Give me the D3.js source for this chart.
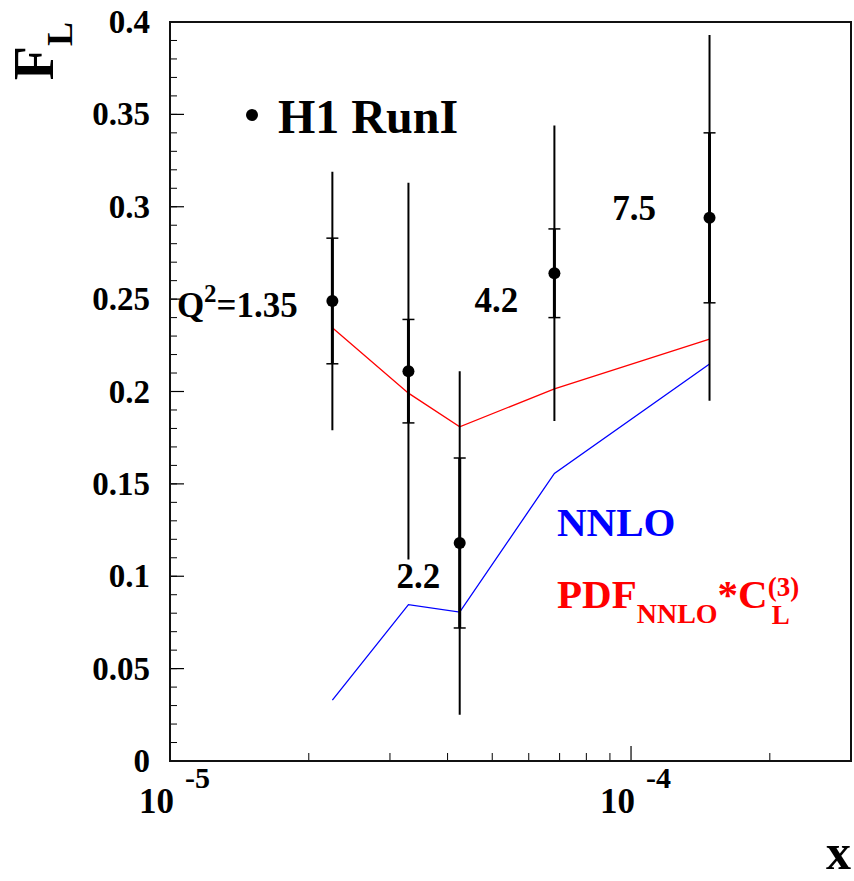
<!DOCTYPE html>
<meta charset="utf-8">
<style>
body { margin: 0; background: #fff; }
text { font-family: "Liberation Serif", "Times New Roman", serif; font-weight: bold; }
.axis line, .axis path { fill: none; stroke: #000; }
</style>
<body>
<div id="chart"></div>
<script src="https://cdn.jsdelivr.net/npm/d3@7"></script>
<script>
// H1 Run I F_L measurements vs x
var xVals   = [2.25e-5, 3.29e-5, 4.25e-5, 6.82e-5, 1.48e-4];
var flVals  = [0.249, 0.211, 0.118, 0.264, 0.294];
var statErr = [0.034, 0.028, 0.046, 0.024, 0.046];
var totErr  = [0.070, 0.102, 0.093, 0.080, 0.099];
var nnlo    = [0.033, 0.0846, 0.0806, 0.1557, 0.2149];
var pdfC3   = [0.2345, 0.1991, 0.1809, 0.2014, 0.2283];
var q2Labels = ["1.35", "2.2", "4.2", "7.5"];
var yTicks  = [0, 0.05, 0.1, 0.15, 0.2, 0.25, 0.3, 0.35, 0.4];
var xDecades = [1e-5, 1e-4];

var W = 854, H = 881,
    margin = {left: 170, top: 22, right: 3, bottom: 120},
    width = W - margin.left - margin.right,
    height = H - margin.top - margin.bottom;

var x = d3.scaleLog().domain([1e-5, 3e-4]).range([0, width]),
    y = d3.scaleLinear().domain([0, 0.4]).range([height, 0]);

var svg = d3.select("#chart").append("svg")
    .attr("width", W).attr("height", H);
var g = svg.append("g")
    .attr("transform", "translate(" + margin.left + "," + margin.top + ")");

// y ticks: major every 0.05, minor every 0.01
var yMinor = d3.range(0, 0.4001, 0.01);
g.selectAll(".ymin").data(yMinor).enter().append("line")
    .attr("x1", 0).attr("x2", 7)
    .attr("y1", function(d) { return y(d); }).attr("y2", function(d) { return y(d); })
    .attr("stroke", "#000").attr("stroke-width", 1);
g.selectAll(".ymaj").data(yTicks).enter().append("line")
    .attr("x1", 0).attr("x2", 14)
    .attr("y1", function(d) { return y(d); }).attr("y2", function(d) { return y(d); })
    .attr("stroke", "#000").attr("stroke-width", 1.2);
g.selectAll(".ylab").data(yTicks).enter().append("text")
    .attr("x", -20).attr("y", function(d) { return y(d) + 11; })
    .attr("text-anchor", "end").attr("font-size", 33)
    .text(function(d) { return d === 0 ? "0" : d3.format(".3~f")(d); });

// x ticks (log)
var xMinor = [];
[1e-5, 1e-4].forEach(function(dec) {
  for (var k = 2; k <= 9; k++) { if (dec * k <= 3e-4) xMinor.push(dec * k); }
});
g.selectAll(".xmin").data(xMinor).enter().append("line")
    .attr("x1", function(d) { return x(d); }).attr("x2", function(d) { return x(d); })
    .attr("y1", height).attr("y2", height - 8)
    .attr("stroke", "#000").attr("stroke-width", 1);
g.selectAll(".xmaj").data(xDecades).enter().append("line")
    .attr("x1", function(d) { return x(d); }).attr("x2", function(d) { return x(d); })
    .attr("y1", height).attr("y2", height - 15)
    .attr("stroke", "#000").attr("stroke-width", 1.2);
var xl = g.selectAll(".xlab").data(xDecades).enter().append("g")
    .attr("transform", function(d) { return "translate(" + x(d) + "," + height + ")"; });
xl.append("text").attr("x", 4).attr("y", 52).attr("text-anchor", "end")
    .attr("font-size", 35).text("10");
xl.append("text").attr("x", 15).attr("y", 27)
    .attr("font-size", 30).text(function(d) { return Math.round(Math.log10(d)); });

// frame
g.append("rect").attr("width", width).attr("height", height)
    .attr("fill", "none").attr("stroke", "#111").attr("stroke-width", 2);

// axis titles
svg.append("text")
    .attr("transform", "translate(53," + margin.top + ") rotate(-90)")
    .attr("text-anchor", "end")
    .call(function(t) {
      t.append("tspan").attr("font-size", 56).text("F");
      t.append("tspan").attr("font-size", 36).attr("dy", 19).text("L");
    });
svg.append("text").attr("x", W - 3).attr("y", 869)
    .attr("text-anchor", "end").attr("font-size", 50).text("x");

// theory curves
var line = function(vals) {
  return d3.line().x(function(d, i) { return x(xVals[i]); }).y(function(d) { return y(d); })(vals);
};
g.append("path").attr("d", line(pdfC3)).attr("fill", "none")
    .attr("stroke", "#ff0000").attr("stroke-width", 1.3);
g.append("path").attr("d", line(nnlo)).attr("fill", "none")
    .attr("stroke", "#0000ff").attr("stroke-width", 1.3);

// data points with total and stat errors
var pts = g.selectAll(".pt").data(flVals).enter().append("g")
    .attr("transform", function(d, i) { return "translate(" + x(xVals[i]) + ",0)"; });
pts.append("line")
    .attr("y1", function(d, i) { return y(d + totErr[i]); })
    .attr("y2", function(d, i) { return y(d - totErr[i]); })
    .attr("stroke", "#000").attr("stroke-width", 2);
pts.append("line")
    .attr("y1", function(d, i) { return y(d + statErr[i]); })
    .attr("y2", function(d, i) { return y(d - statErr[i]); })
    .attr("stroke", "#000").attr("stroke-width", 3);
[1, -1].forEach(function(s) {
  pts.append("line").attr("x1", -6).attr("x2", 6)
      .attr("y1", function(d, i) { return y(d + s * statErr[i]); })
      .attr("y2", function(d, i) { return y(d + s * statErr[i]); })
      .attr("stroke", "#000").attr("stroke-width", 1.5);
});
pts.append("circle").attr("cy", function(d) { return y(d); })
    .attr("r", 6).attr("fill", "#000");

// Q^2 labels
var q2Pos = [[1.035e-5, 0.2403], [3.10e-5, 0.0936], [4.575e-5, 0.2430], [9.11e-5, 0.2928]];
g.selectAll(".q2").data(q2Labels).enter().append("text")
    .attr("x", function(d, i) { return x(q2Pos[i][0]); })
    .attr("y", function(d, i) { return y(q2Pos[i][1]); })
    .attr("font-size", 35)
    .each(function(d, i) {
      var t = d3.select(this);
      if (i === 0) {
        t.append("tspan").text("Q");
        t.append("tspan").attr("font-size", 25).attr("dy", -15).text("2");
        t.append("tspan").attr("dy", 15).text("=" + d);
      } else {
        t.text(d);
      }
    });

// legend
svg.append("circle").attr("cx", 252).attr("cy", 115).attr("r", 6).attr("fill", "#000");
svg.append("text").attr("x", 278).attr("y", 133).attr("font-size", 48).text("H1 RunI");

svg.append("text").attr("x", 557).attr("y", 536).attr("font-size", 41)
    .attr("fill", "#0000ff").text("NNLO");
var pdf = svg.append("text").attr("x", 557).attr("y", 608).attr("font-size", 41)
    .attr("fill", "#ff0000");
pdf.append("tspan").text("PDF");
pdf.append("tspan").attr("font-size", 28).attr("dy", 15).text("NNLO");
pdf.append("tspan").attr("dy", -15).text("*C");
var pw = pdf.node().getBBox();
var sx = pw.x + pw.width;
svg.append("text").attr("x", sx).attr("y", 596).attr("font-size", 27)
    .attr("fill", "#ff0000").text("(3)");
svg.append("text").attr("x", sx + 4).attr("y", 624).attr("font-size", 27)
    .attr("fill", "#ff0000").text("L");
</script>
</body>
